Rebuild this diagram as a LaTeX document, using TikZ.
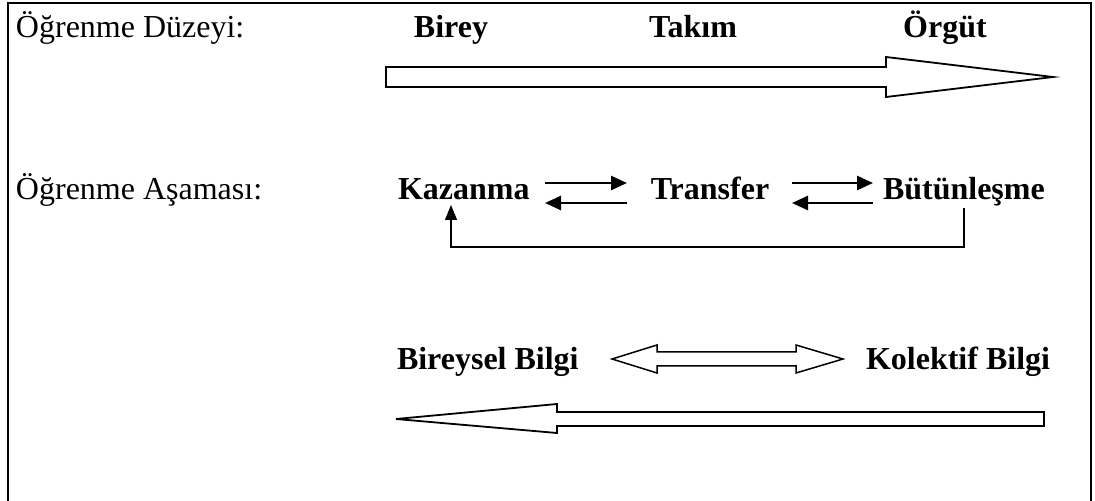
\documentclass[tikz,border=0pt]{standalone}
\usepackage{fontspec}
\setmainfont{Liberation Serif}
\usetikzlibrary{arrows.meta,calc}
\begin{document}
\begin{tikzpicture}[x=0.5pt,y=-0.5pt,
  every node/.style={inner sep=0pt,outer sep=0pt},
  plain/.style={font=\fontsize{16}{19}\selectfont,anchor=base west},
  bold/.style={font=\fontsize{16}{19}\selectfont\bfseries,anchor=base},
  blockarrow/.style={draw=black,fill=white,line width=0.9pt,line join=miter},
  smallarrow/.style={line width=1.3pt,-{Triangle[length=8pt,width=7pt]}},
  feedback/.style={line width=0.6pt,-{Triangle[length=7.5pt,width=6pt]}}]
\useasboundingbox (0,0) rectangle (1095,501);
% frame
\draw[line width=1pt] (8,501) -- (8,3) -- (1091,3) -- (1091,501);
% row 1
\node[plain] (lvl) at (16,38) {Öğrenme Düzeyi:};
\node[bold] (birey) at (451,38) {Birey};
\node[bold] (takim) at (693,38) {Takım};
\node[bold] (orgut) at (945,38) {Örgüt};
\draw[blockarrow] (386,67) -- (886,67) -- (886,57) -- (1053,77) -- (886,97) -- (886,87) -- (386,87) -- cycle;
% row 2
\node[plain] (stage) at (16,200) {Öğrenme Aşaması:};
\node[bold,anchor=base west] (kaz) at (398,200) {Kazanma};
\node[bold] (tra) at (710,200) {Transfer};
\node[bold,anchor=base west] (but) at (883,200) {Bütünleşme};
\coordinate (k1) at (545,183); \coordinate (t1) at (627,183);
\coordinate (k2) at (545,203); \coordinate (t2) at (627,203);
\coordinate (t3) at (792,183); \coordinate (b3) at (873,183);
\coordinate (t4) at (792,203); \coordinate (b4) at (873,203);
\draw[smallarrow] (k1) -- (t1);
\draw[smallarrow] (t2) -- (k2);
\draw[smallarrow] (t3) -- (b3);
\draw[smallarrow] (b4) -- (t4);
\coordinate (bfoot) at (964,208);
\coordinate (kfoot) at (451,205);
\draw[feedback] (bfoot) -- (964,247) -- (451,247) -- (kfoot);
% row 3
\node[bold,anchor=base west] (bb) at (397,370) {Bireysel Bilgi};
\node[bold,anchor=base east] (kb) at (1050,370) {Kolektif Bilgi};
\draw[blockarrow,line width=0.75pt] (612,359) -- (657,345) -- (657,352) -- (796,352) -- (796,345) -- (843,359) -- (796,373) -- (796,366) -- (657,366) -- (657,373) -- cycle;
\draw[blockarrow] (396,419) -- (557,404) -- (557,412) -- (1044,412) -- (1044,426) -- (557,426) -- (557,433) -- cycle;
\end{tikzpicture}
\end{document}
